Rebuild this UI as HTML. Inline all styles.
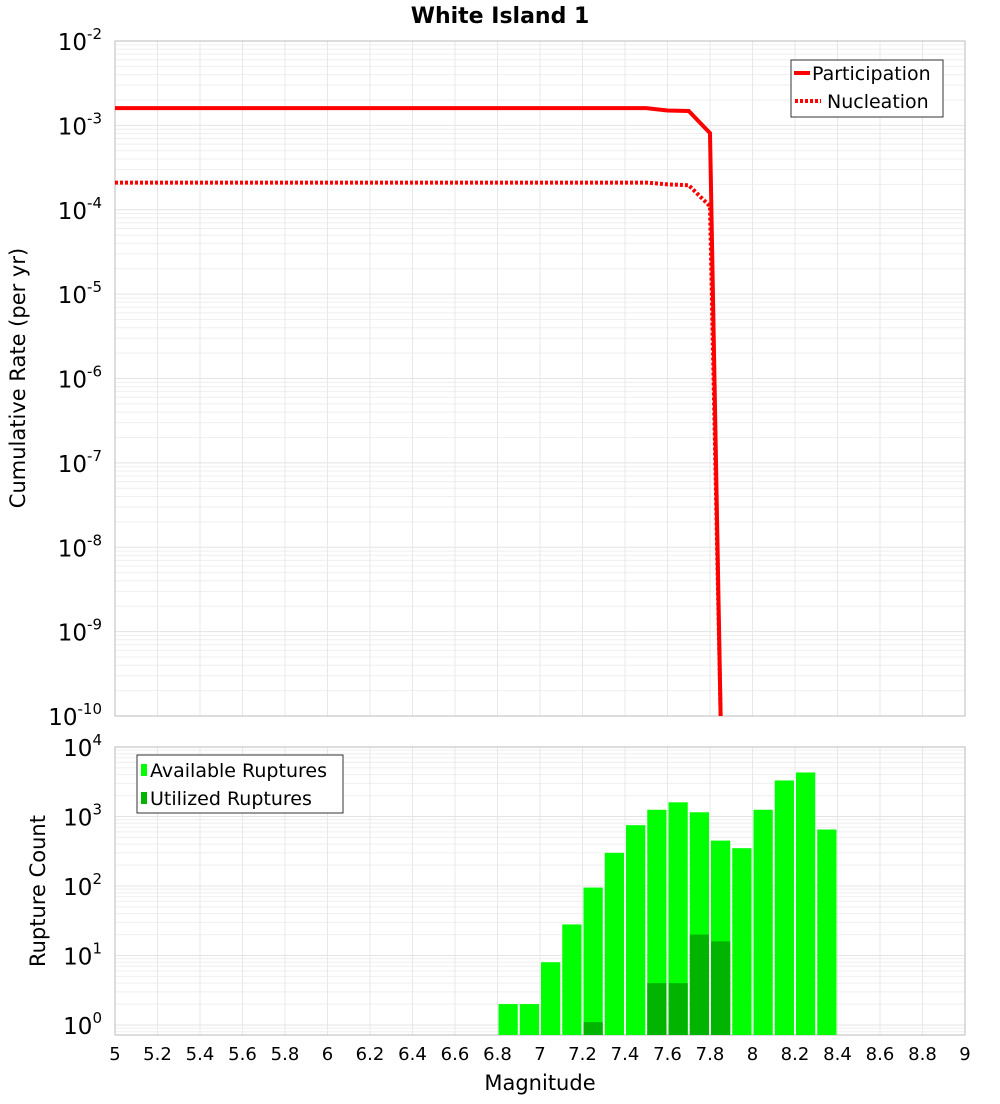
<!DOCTYPE html>
<html><head><meta charset="utf-8"><style>
body{margin:0;background:#fff;font-family:"DejaVu Sans","Liberation Sans",sans-serif}
</style></head><body>
<svg id="c" width="1000" height="1100" xmlns="http://www.w3.org/2000/svg"></svg>
<script>
const partMags=[5,7.5,7.6,7.7,7.8,7.85];
const partRates=[1.6e-3,1.6e-3,1.5e-3,1.48e-3,8.1e-4,1e-10];
const nuclMags=[5,7.5,7.6,7.7,7.8,7.85];
const nuclRates=[2.1e-4,2.1e-4,2.0e-4,1.95e-4,1.1e-4,1e-10];
const binCenters=[6.85,6.95,7.05,7.15,7.25,7.35,7.45,7.55,7.65,7.75,7.85,7.95,8.05,8.15,8.25,8.35];
const availCounts=[2,2,8,28,95,300,750,1250,1600,1150,450,350,1250,3300,4300,650];
const utilCounts=[0,0,0,0,1.1,0,0,4,4,20,16,0,0,0,0,0];
const xTicks=[5,5.2,5.4,5.6,5.8,6,6.2,6.4,6.6,6.8,7,7.2,7.4,7.6,7.8,8,8.2,8.4,8.6,8.8,9];
const topDecades=[-2,-3,-4,-5,-6,-7,-8,-9,-10];
const botDecades=[4,3,2,1,0];

const S=document.getElementById('c');const NS='http://www.w3.org/2000/svg';
function el(t,a,p){const e=document.createElementNS(NS,t);for(const k in a)e.setAttribute(k,a[k]);(p||S).appendChild(e);return e;}
const X0=115,X1=965;const xs=m=>X0+(m-5)/4*(X1-X0);
const T0=41,T1=716;const yt=v=>T0+(-2-Math.log10(v))/8*(T1-T0);
const B0=747,B1=1035,BPD=69.5;const yb=v=>B0+(4-Math.log10(v))*BPD;

// grids
function grids(y0,y1,yfun,dmax,dmin){
  for(let d=dmin;d<dmax;d++)for(let k=1;k<10;k++){const y=yfun(k*Math.pow(10,d));if(y<y0||y>y1)continue;
    const g=el('line',{x1:X0,x2:X1,y1:y,y2:y,stroke:k==1?'#e4e4e4':'#efefef','stroke-width':1});
    }
  xTicks.forEach(m=>{const g=el('line',{x1:xs(m),x2:xs(m),y1:y0,y2:y1,stroke:'#e8e8e8'});
    });
}
grids(T0,T1,yt,-2,-10);grids(B0,B1,yb,4,-1);

// top frame
let f=el('rect',{x:X0,y:T0,width:X1-X0,height:T1-T0,fill:'none',stroke:'#bbb'});

f=el('rect',{x:X0,y:B0,width:X1-X0,height:B1-B0,fill:'none',stroke:'#bbb'});


// clip
const defs=el('defs',{});
const cp=el('clipPath',{id:'ct'},defs);el('rect',{x:X0,y:T0,width:X1-X0,height:T1-T0},cp);

function line(ms,vs,dash,name){const p=ms.map((m,i)=>xs(m)+','+yt(vs[i])).join(' ');
  const l=el('polyline',{points:p,fill:'none',stroke:'#f00','stroke-width':4,'clip-path':'url(#ct)','stroke-dasharray':dash||'none'});
  }
line(nuclMags,nuclRates,'3,2','nucleation-line');
line(partMags,partRates,null,'participation-line');

// bars
binCenters.forEach((c,i)=>{
  const x=xs(c-0.05)+1,w=xs(c+0.05)-xs(c-0.05)-2;
  const y=yb(availCounts[i]);const b=el('rect',{x:x,y:y,width:w,height:B1-y,fill:'#00ff00'});
  
  if(utilCounts[i]>0){const y2=yb(utilCounts[i]);const u=el('rect',{x:x,y:y2,width:w,height:B1-y2,fill:'#00b400'});
    }
});

function txt(x,y,s,a,name,extra){const t=el('text',Object.assign({x:x,y:y,'font-size':20,fill:'#000','text-anchor':a||'middle'},extra||{}));t.textContent=s;
  return t;}
function pow(x,y,e,name){const t=txt(x,y,'10','end',name,{'font-size':23});const ts=el('tspan',{dy:-11,'font-size':15},t);ts.textContent=e;}
topDecades.forEach(d=>pow(102,yt(Math.pow(10,d))+9,String(d),'y-tick-label'));
botDecades.forEach(d=>pow(102,yb(Math.pow(10,d))+9,String(d),'y-tick-label-bottom'));
xTicks.forEach(m=>txt(xs(m),1060,String(m),'middle','x-tick-label',{'font-size':18}));

txt(500,23,'White Island 1','middle','chart-title',{'font-weight':'bold','font-size':22});
txt(540,1090,'Magnitude','middle','x-axis-title',{'font-size':21});
let t=txt(0,0,'Cumulative Rate (per yr)','middle','y-axis-title',{transform:'translate(25,378) rotate(-90)','font-size':21});
t=txt(0,0,'Rupture Count','middle','y-axis-title-bottom',{transform:'translate(45,891) rotate(-90)','font-size':21});

// legends
let g=el('g',{});
el('rect',{x:791,y:60,width:152,height:57,fill:'#fff',stroke:'#333'},g);
el('line',{x1:794,x2:810,y1:73,y2:73,stroke:'#f00','stroke-width':4},g);
el('line',{x1:795,x2:821,y1:101,y2:101,stroke:'#f00','stroke-width':4,'stroke-dasharray':'3,2'},g);
t=txt(812,80,'Participation','start','legend-participation',{'font-size':19});g.appendChild(t);
t=txt(827,108,'Nucleation','start','legend-nucleation',{'font-size':19});g.appendChild(t);
g=el('g',{});
el('rect',{x:137,y:755,width:206,height:58,fill:'#fff',stroke:'#333'},g);
el('rect',{x:141,y:764,width:6,height:12,fill:'#00ff00'},g);
el('rect',{x:141,y:792,width:6,height:12,fill:'#00b400'},g);
t=txt(150,777,'Available Ruptures','start','legend-available',{'font-size':19});g.appendChild(t);
t=txt(150,805,'Utilized Ruptures','start','legend-utilized',{'font-size':19});g.appendChild(t);
</script>
</body></html>
